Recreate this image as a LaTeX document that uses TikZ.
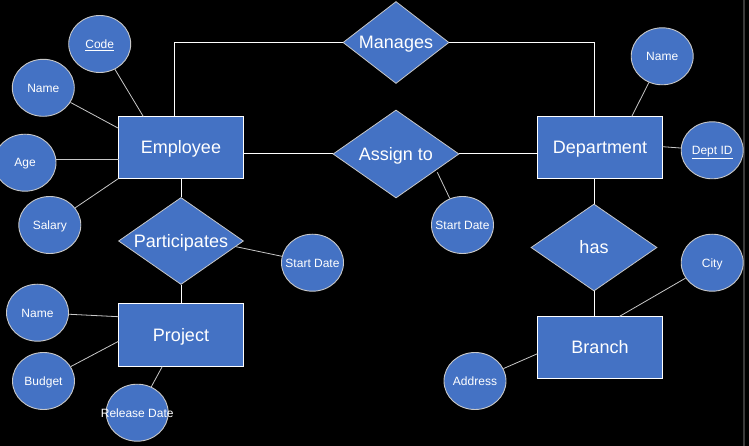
\documentclass[tikz,border=0pt]{standalone}
\usepackage{fontspec}
\setmainfont{Liberation Sans}
\usetikzlibrary{shapes.geometric}
\definecolor{erblue}{HTML}{4472C4}
\definecolor{edgegray}{HTML}{C8C8C8}
\definecolor{stripgray}{HTML}{3A3A3A}
\newcommand{\attrtext}[1]{\makebox[0pt]{#1}}
\begin{document}
\begin{tikzpicture}[x=1pt,y=-1pt,
  entity/.style={rectangle,draw=white,line width=1pt,fill=erblue,minimum width=125pt,minimum height=62pt,inner sep=0pt,text=white,font=\fontsize{18}{20}\selectfont,text height=12.9pt,text depth=0pt},
  rel/.style={diamond,draw=edgegray,line width=0.8pt,fill=erblue,aspect=1.45,inner sep=0pt,text=white,font=\fontsize{18}{20}\selectfont,text height=12.9pt,text depth=0pt},
  attr/.style={ellipse,draw=edgegray,line width=0.9pt,fill=erblue,minimum width=62pt,minimum height=57pt,inner sep=0pt,text=white,font=\fontsize{12}{14}\selectfont,text height=8.6pt,text depth=0pt},
  rline/.style={draw=white,line width=1pt},
  aline/.style={draw=edgegray,line width=0.8pt}]
\useasboundingbox (0,0) rectangle (749,446);
\fill[black] (0,0) rectangle (749,446);
\draw[stripgray,line width=1.6pt] (744,0) -- (744,446);

% entities
\node[entity] (emp) at (181,147.5) {Employee};
\node[entity] (dep) at (600,147.5) {Department};
\node[entity,minimum height=63pt] (proj) at (181,335) {Project};
\node[entity] (br) at (600,347.5) {Branch};

% relationships
\node[rel,minimum width=106pt,minimum height=82pt] (mgr) at (396,42.5) {Manages};
\node[rel,minimum width=126pt,minimum height=88pt] (asg) at (396,154) {Assign to};
\node[rel,minimum width=125pt,minimum height=87pt] (part) at (181,241) {Participates};
\node[rel,minimum width=126pt,minimum height=87pt] (has) at (594,247.5) {has};

% attributes
\node[attr] (code) at (99.7,44) {\attrtext{\underline{Code}}};
\node[attr] (ename) at (43.3,87.8) {\attrtext{Name}};
\node[attr] (age) at (25,162.7) {\attrtext{Age}};
\node[attr] (sal) at (49.8,225) {\attrtext{Salary}};
\node[attr] (psd) at (312.5,262.7) {\attrtext{Start Date}};
\node[attr] (pname) at (37.5,312.7) {\attrtext{Name}};
\node[attr] (bud) at (43.5,381) {\attrtext{Budget}};
\node[attr] (rel) at (137.2,412.7) {\attrtext{Release Date}};
\node[attr] (asd) at (462.5,225) {\attrtext{Start Date}};
\node[attr] (dname) at (662.2,56.3) {\attrtext{Name}};
\node[attr] (did) at (712.2,150.3) {\attrtext{\underline{Dept ID}}};
\node[attr] (city) at (712.2,262.7) {\attrtext{City}};
\node[attr] (addr) at (475,381) {\attrtext{Address}};

% attachment points
\coordinate (eCode) at (143.3,116.5);
\coordinate (eName) at (118.5,128.3);
\coordinate (eAge) at (118.5,159.3);
\coordinate (eSal) at (118.5,178.5);
\coordinate (pSD) at (236,246.7);
\coordinate (jName) at (118.5,316.7);
\coordinate (jBud) at (118.5,341.3);
\coordinate (jRel) at (162.3,366.5);
\coordinate (aSD) at (437.3,172.3);
\coordinate (dName) at (631.7,116.5);
\coordinate (dID) at (662.5,146.7);
\coordinate (bCity) at (619.3,316.5);
\coordinate (bAddr) at (537.5,353.7);
\coordinate (empM) at (174.5,116.5);
\coordinate (depM) at (594,116.5);

% relationship connectors
\draw[rline] (empM) |- (mgr.west);
\draw[rline] (mgr.east) -| (depM);
\draw[rline] (asg.west -| emp.east) -- (asg.west);
\draw[rline] (asg.east) -- (asg.east -| dep.west);
\draw[rline] (emp.south) -- (part.north);
\draw[rline] (part.south) -- (proj.north);
\draw[rline] (has.north |- dep.south) -- (has.north);
\draw[rline] (has.south) -- (has.south |- br.north);

% attribute connectors
\draw[aline] (code) -- (eCode);
\draw[aline] (ename) -- (eName);
\draw[aline] (eAge -| age.east) -- (eAge);
\draw[aline] (sal) -- (eSal);
\draw[aline] (psd) -- (pSD);
\draw[aline] (pname) -- (jName);
\draw[aline] (bud) -- (jBud);
\draw[aline] (rel) -- (jRel);
\draw[aline] (asd) -- (aSD);
\draw[aline] (dname) -- (dName);
\draw[aline] (did) -- (dID);
\draw[aline] (city) -- (bCity);
\draw[aline] (addr) -- (bAddr);
\end{tikzpicture}
\end{document}
